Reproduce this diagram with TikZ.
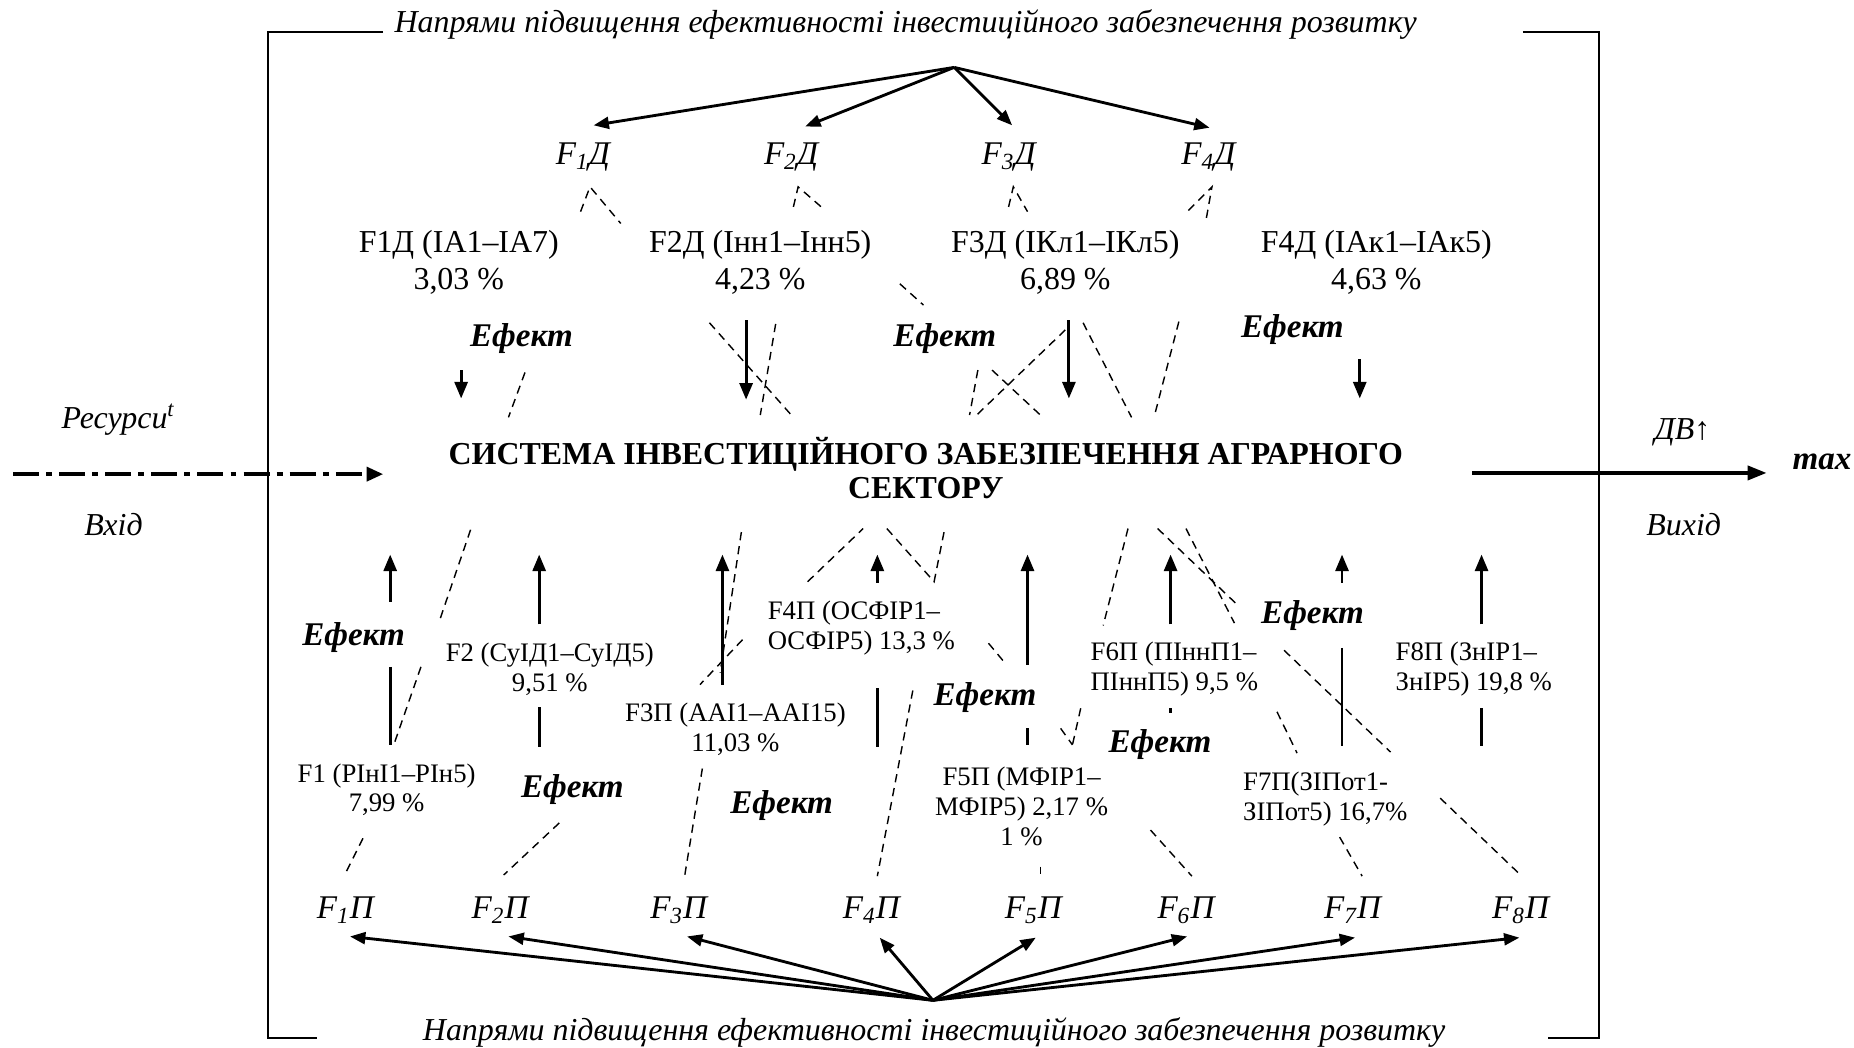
\documentclass[tikz,border=0pt]{standalone}
\usepackage{fontspec}
\setmainfont{Liberation Serif}
\usetikzlibrary{arrows.meta}

\begin{document}
\begin{tikzpicture}[x=0.5pt,y=-0.5pt,
  frameline/.style={line width=0.85pt},
  dsh/.style={dash pattern=on 3.5pt off 2.5pt, line width=0.6pt},
  fan/.style={-{Triangle[length=6.5pt,width=5pt]}, line width=1.2pt},
  effarrow/.style={-{Triangle[length=7pt,width=5.5pt]}, line width=1.2pt},
  shaft/.style={line width=1.2pt},
  heading/.style={font=\fontsize{13.5}{16}\selectfont\itshape, inner sep=0pt},
  flabel/.style={font=\fontsize{14}{16}\selectfont\itshape, inner sep=0pt},
  biglabel/.style={font=\fontsize{13.5}{15.5}\selectfont, inner sep=0pt, align=center},
  smalllabel/.style={font=\fontsize{11.3}{12.5}\selectfont, inner sep=0pt},
  effect/.style={font=\fontsize{14}{16}\selectfont\bfseries\itshape, inner sep=0pt},
  side/.style={font=\fontsize{13.5}{16}\selectfont\itshape, inner sep=0pt},
  title/.style={font=\fontsize{13.5}{14.5}\selectfont\bfseries, inner sep=0pt, align=center}
]
\useasboundingbox (0,0) rectangle (1568,886);

% outer bracket frame
\draw[frameline] (324,27) -- (227,27) -- (227,878) -- (268,878);
\draw[frameline] (1288,27) -- (1352,27) -- (1352,878) -- (1309,878);

% headings
\node[heading] (headtop) at (766,21) {Напрями підвищення ефективності інвестиційного забезпечення розвитку};
\node[heading] (headbot) at (790,873) {Напрями підвищення ефективності інвестиційного забезпечення розвитку};

% upper directions
\node[flabel] (d1) at (493,133) {F\textsubscript{1}Д};
\node[flabel] (d2) at (669,133) {F\textsubscript{2}Д};
\node[flabel] (d3) at (853,133) {F\textsubscript{3}Д};
\node[flabel] (d4) at (1022,133) {F\textsubscript{4}Д};

\coordinate (topsrc) at (807,57);
\coordinate (td1) at (502,106);
\coordinate (td2) at (681,107);
\coordinate (td3) at (856,106);
\coordinate (td4) at (1023,108);
\foreach \t in {td1,td2,td3,td4} \draw[fan] (topsrc) -- (\t);

% upper factor groups
\node[biglabel] (g1) at (388,222) {F1Д (ІА1–ІА7)\\3,03 \%};
\node[biglabel] (g2) at (643,222) {F2Д (Інн1–Інн5)\\4,23 \%};
\node[biglabel] (g3) at (901,222) {F3Д (ІКл1–ІКл5)\\6,89 \%};
\node[biglabel] (g4) at (1164,222) {F4Д (ІАк1–ІАк5)\\4,63 \%};

\node[effect] (e1) at (441,286) {Ефект};
\node[effect] (e2) at (799,286) {Ефект};
\node[effect] (e3) at (1093,279) {Ефект};

% effect arrows into the system (top)
\coordinate (a1s) at (390,313); \coordinate (a1e) at (390,337);
\coordinate (a2s) at (631,271); \coordinate (a2e) at (631,338);
\coordinate (a3s) at (904,271); \coordinate (a3e) at (904,337);
\coordinate (a4s) at (1150,304); \coordinate (a4e) at (1150,337);
\draw[effarrow] (a1s) -- (a1e);
\draw[effarrow] (a2s) -- (a2e);
\draw[effarrow] (a3s) -- (a3e);
\draw[effarrow] (a4s) -- (a4e);

% dashed links (top)
\draw[dsh] (491,179) -- (499,158) -- (525,189);
\draw[dsh] (671,175) -- (675,158) -- (698,178);
\draw[dsh] (853,175) -- (857,158) -- (869,179);
\draw[dsh] (1005,178) -- (1025,158) -- (1020,186);
\draw[dsh] (444,315) -- (430,353);
\draw[dsh] (600,273) -- (671,353);
\draw[dsh] (656,274) -- (643,351);
\draw[dsh] (761,240) -- (781,258);
\draw[dsh] (827,313) -- (820,351);
\draw[dsh] (839,313) -- (882,353);
\draw[dsh] (901,279) -- (825,352);
\draw[dsh] (916,273) -- (957,353);
\draw[dsh] (997,272) -- (976,353);

% central system
\node[title] (sys) at (783,396) {СИСТЕМА ІНВЕСТИЦІЙНОГО ЗАБЕЗПЕЧЕННЯ АГРАРНОГО\\СЕКТОРУ};

% input and output
\node[side] (res) at (100,355) {Ресурси\textsuperscript{t}};
\node[side] (vin) at (96,444) {Вхід};
\coordinate (inA) at (11,401);
\coordinate (inB) at (324,401);
\draw[line width=1.4pt, dash pattern=on 11pt off 3pt on 2.5pt off 3pt,
      -{Triangle[length=7pt,width=6pt]}] (inA) -- (inB);

\node[side] (dv) at (1423,366) {ДВ↑};
\node[side] (vout) at (1424,444) {Вихід};
\node[effect] (mx) at (1541,391) {max};
\coordinate (outA) at (1245,400);
\coordinate (outB) at (1494,400);
\draw[line width=1.4pt, -{Triangle[length=8pt,width=6pt]}] (outA) -- (outB);

% lower factor groups
\node[smalllabel, align=center] (p1) at (327,668) {F1 (РІнІ1–РІн5)\\7,99 \%};
\node[smalllabel, align=center] (p2) at (465,566) {F2 (СуІД1–СуІД5)\\9,51 \%};
\node[smalllabel, align=center] (p3) at (622,617) {F3П (ААІ1–ААІ15)\\11,03 \%};
\node[smalllabel, align=left, anchor=west] (p4) at (649,531) {F4П (ОСФІР1–\\ОСФІР5) 13,3 \%};
\node[smalllabel, align=center] (p5) at (864,682) {F5П (МФІР1–\\МФІР5) 2,17 \%\\1 \%};
\node[smalllabel, align=left, anchor=west] (p6) at (922,566) {F6П (ПІннП1–\\ПІннП5) 9,5 \%};
\node[smalllabel, align=left, anchor=west] (p7) at (1051,676) {F7П(ЗІПот1-\\ЗІПот5) 16,7\%};
\node[smalllabel, align=left, anchor=west] (p8) at (1180,566) {F8П (ЗнІР1–\\ЗнІР5) 19,8 \%};

\node[effect] (e4) at (299,539) {Ефект};
\node[effect] (e5) at (484,668) {Ефект};
\node[effect] (e6) at (661,681) {Ефект};
\node[effect] (e7) at (833,590) {Ефект};
\node[effect] (e8) at (981,630) {Ефект};
\node[effect] (e9) at (1110,521) {Ефект};

% effect arrows into the system (bottom), with their broken shafts
\foreach \x/\s in {330/509, 456/528, 611/579, 742/493, 869/562, 990/528, 1135/493, 1253/528}
  \draw[effarrow] (\x,\s) -- (\x,469);
\draw[shaft] (330,564) -- (330,630);
\draw[shaft] (456,598) -- (456,632);
\draw[shaft] (742,582) -- (742,632);
\draw[shaft] (869,616) -- (869,630);
\draw[shaft] (990,599) -- (990,603);
\draw[shaft] (1135,548) -- (1135,631);
\draw[shaft] (1253,599) -- (1253,631);

% dashed links (bottom)
\draw[dsh] (398,448) -- (371,527);
\draw[dsh] (356,564) -- (333,630);
\draw[dsh] (627,450) -- (609,569);
\draw[dsh] (628,541) -- (592,579);
\draw[dsh] (683,492) -- (730,447);
\draw[dsh] (750,447) -- (790,492) -- (799,447);
\draw[dsh] (772,584) -- (742,741);
\draw[dsh] (594,650) -- (579,741);
\draw[dsh] (473,696) -- (426,740);
\draw[dsh] (307,709) -- (291,741);
\draw[dsh] (973,702) -- (1008,741);
\draw[dsh] (1133,708) -- (1152,741);
\draw[dsh] (1218,675) -- (1287,741);
\draw[dsh] (880,733) -- (880,739);
\draw[dsh] (836,544) -- (851,562);
\draw[dsh] (914,599) -- (907,630);
\draw[dsh] (897,616) -- (907,630);
\draw[dsh] (954,447) -- (933,529);
\draw[dsh] (979,447) -- (1048,513);
\draw[dsh] (1003,447) -- (1044,527);
\draw[dsh] (1086,550) -- (1176,636);
\draw[dsh] (1080,602) -- (1097,637);

% lower directions
\node[flabel] (q1) at (292,770) {F\textsubscript{1}П};
\node[flabel] (q2) at (423,770) {F\textsubscript{2}П};
\node[flabel] (q3) at (574,770) {F\textsubscript{3}П};
\node[flabel] (q4) at (737,770) {F\textsubscript{4}П};
\node[flabel] (q5) at (874,770) {F\textsubscript{5}П};
\node[flabel] (q6) at (1003,770) {F\textsubscript{6}П};
\node[flabel] (q7) at (1144,770) {F\textsubscript{7}П};
\node[flabel] (q8) at (1286,770) {F\textsubscript{8}П};

\coordinate (botsrc) at (789,846);
\coordinate (tq1) at (296,792);
\coordinate (tq2) at (430,792);
\coordinate (tq3) at (581,792);
\coordinate (tq4) at (744,793);
\coordinate (tq5) at (876,793);
\coordinate (tq6) at (1004,792);
\coordinate (tq7) at (1146,793);
\coordinate (tq8) at (1285,793);
\foreach \t in {tq1,tq2,tq3,tq4,tq5,tq6,tq7,tq8} \draw[fan] (botsrc) -- (\t);
\end{tikzpicture}
\end{document}
